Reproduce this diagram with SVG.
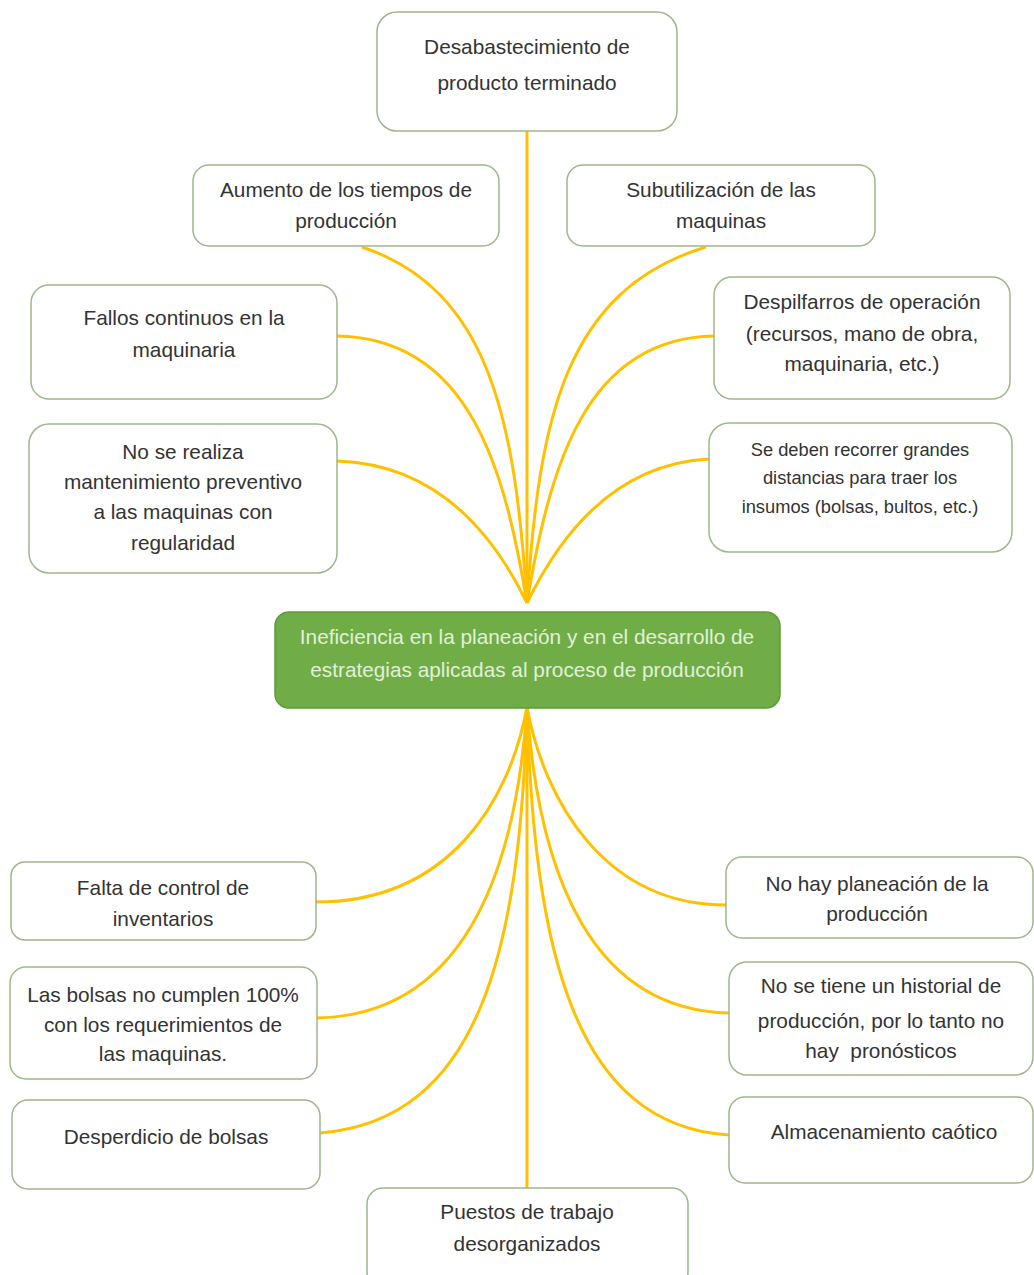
<svg xmlns="http://www.w3.org/2000/svg" width="1034" height="1275" viewBox="0 0 1034 1275">
<style>
.box{fill:#fff;stroke:#9fb68c;stroke-width:1.5}
.t{font-family:"Liberation Sans",Arial,sans-serif;font-size:20.8px;fill:#333;text-anchor:middle}
.s{font-size:18.3px}
.c{fill:#70ad47;stroke:#5e9a3a;stroke-width:1.5}
.ct{fill:#e2f0d9}
.ln{fill:none;stroke:#ffc000;stroke-width:3}
.pre{white-space:pre}
</style>
<rect width="1034" height="1275" fill="#fff"/>
<g id="connectors">
<path class="ln" d="M527,603 L527,131"/>
<path class="ln" d="M527,603 C515,420 490,290 362,247"/>
<path class="ln" d="M527,603 C539,420 564,290 706,247"/>
<path class="ln" d="M527,603 C505,470 470,338 337,336"/>
<path class="ln" d="M527,603 C549,470 584,338 714,336"/>
<path class="ln" d="M527,603 Q460,465 337,461"/>
<path class="ln" d="M527,603 Q594,465 709,459"/>
<path class="ln" d="M527,707 L527,1188"/>
<path class="ln" d="M527,707 C510,800 450,902 316,902"/>
<path class="ln" d="M527,707 C515,880 460,1015 317,1018"/>
<path class="ln" d="M527,707 C520,950 480,1120 320,1133"/>
<path class="ln" d="M527,707 C544,800 604,905 726,905"/>
<path class="ln" d="M527,707 C539,880 594,1010 729,1013"/>
<path class="ln" d="M527,707 C534,950 574,1125 729,1135"/>
</g>
<g id="n1"><rect class="box" x="377" y="12" width="300" height="119" rx="20"/><text class="t"><tspan x="527" y="54">Desabastecimiento de</tspan><tspan x="527" y="90">producto terminado</tspan></text></g>
<g id="n2"><rect class="box" x="193" y="165" width="306" height="81" rx="16"/><text class="t"><tspan x="346" y="197">Aumento de los tiempos de</tspan><tspan x="346" y="228">producción</tspan></text></g>
<g id="n3"><rect class="box" x="567" y="165" width="308" height="81" rx="16"/><text class="t"><tspan x="721" y="197">Subutilización de las</tspan><tspan x="721" y="228">maquinas</tspan></text></g>
<g id="n4"><rect class="box" x="31" y="285" width="306" height="114" rx="18"/><text class="t"><tspan x="184" y="325">Fallos continuos en la</tspan><tspan x="184" y="357">maquinaria</tspan></text></g>
<g id="n5"><rect class="box" x="714" y="277" width="296" height="122" rx="18"/><text class="t"><tspan x="862" y="309">Despilfarros de operación</tspan><tspan x="862" y="341">(recursos, mano de obra,</tspan><tspan x="862" y="371">maquinaria, etc.)</tspan></text></g>
<g id="n6"><rect class="box" x="29" y="424" width="308" height="149" rx="20"/><text class="t"><tspan x="183" y="459">No se realiza</tspan><tspan x="183" y="489">mantenimiento preventivo</tspan><tspan x="183" y="519">a las maquinas con</tspan><tspan x="183" y="550">regularidad</tspan></text></g>
<g id="n7"><rect class="box" x="709" y="423" width="303" height="129" rx="20"/><text class="t s"><tspan x="860" y="456">Se deben recorrer grandes</tspan><tspan x="860" y="484">distancias para traer los</tspan><tspan x="860" y="513">insumos (bolsas, bultos, etc.)</tspan></text></g>
<g id="center"><rect class="c" x="275" y="612" width="505" height="96" rx="14"/><text class="t ct"><tspan x="527" y="644">Ineficiencia en la planeación y en el desarrollo de</tspan><tspan x="527" y="677">estrategias aplicadas al proceso de producción</tspan></text></g>
<g id="n8"><rect class="box" x="11" y="862" width="305" height="78" rx="14"/><text class="t"><tspan x="163" y="895">Falta de control de</tspan><tspan x="163" y="926">inventarios</tspan></text></g>
<g id="n9"><rect class="box" x="10" y="967" width="307" height="112" rx="16"/><text class="t"><tspan x="163" y="1002">Las bolsas no cumplen 100%</tspan><tspan x="163" y="1032">con los requerimientos de</tspan><tspan x="163" y="1061">las maquinas.</tspan></text></g>
<g id="n10"><rect class="box" x="12" y="1100" width="308" height="89" rx="16"/><text class="t"><tspan x="166" y="1144">Desperdicio de bolsas</tspan></text></g>
<g id="n11"><rect class="box" x="726" y="857" width="307" height="81" rx="16"/><text class="t"><tspan x="877" y="891">No hay planeación de la</tspan><tspan x="877" y="921">producción</tspan></text></g>
<g id="n12"><rect class="box" x="729" y="962" width="304" height="113" rx="18"/><text class="t"><tspan x="881" y="993">No se tiene un historial de</tspan><tspan x="881" y="1028">producción, por lo tanto no</tspan><tspan class="pre" x="881" y="1058">hay  pronósticos</tspan></text></g>
<g id="n13"><rect class="box" x="729" y="1097" width="304" height="86" rx="16"/><text class="t"><tspan x="884" y="1139">Almacenamiento caótico</tspan></text></g>
<g id="n14"><rect class="box" x="367" y="1188" width="321" height="100" rx="16"/><text class="t"><tspan x="527" y="1219">Puestos de trabajo</tspan><tspan x="527" y="1251">desorganizados</tspan></text></g>
</svg>
